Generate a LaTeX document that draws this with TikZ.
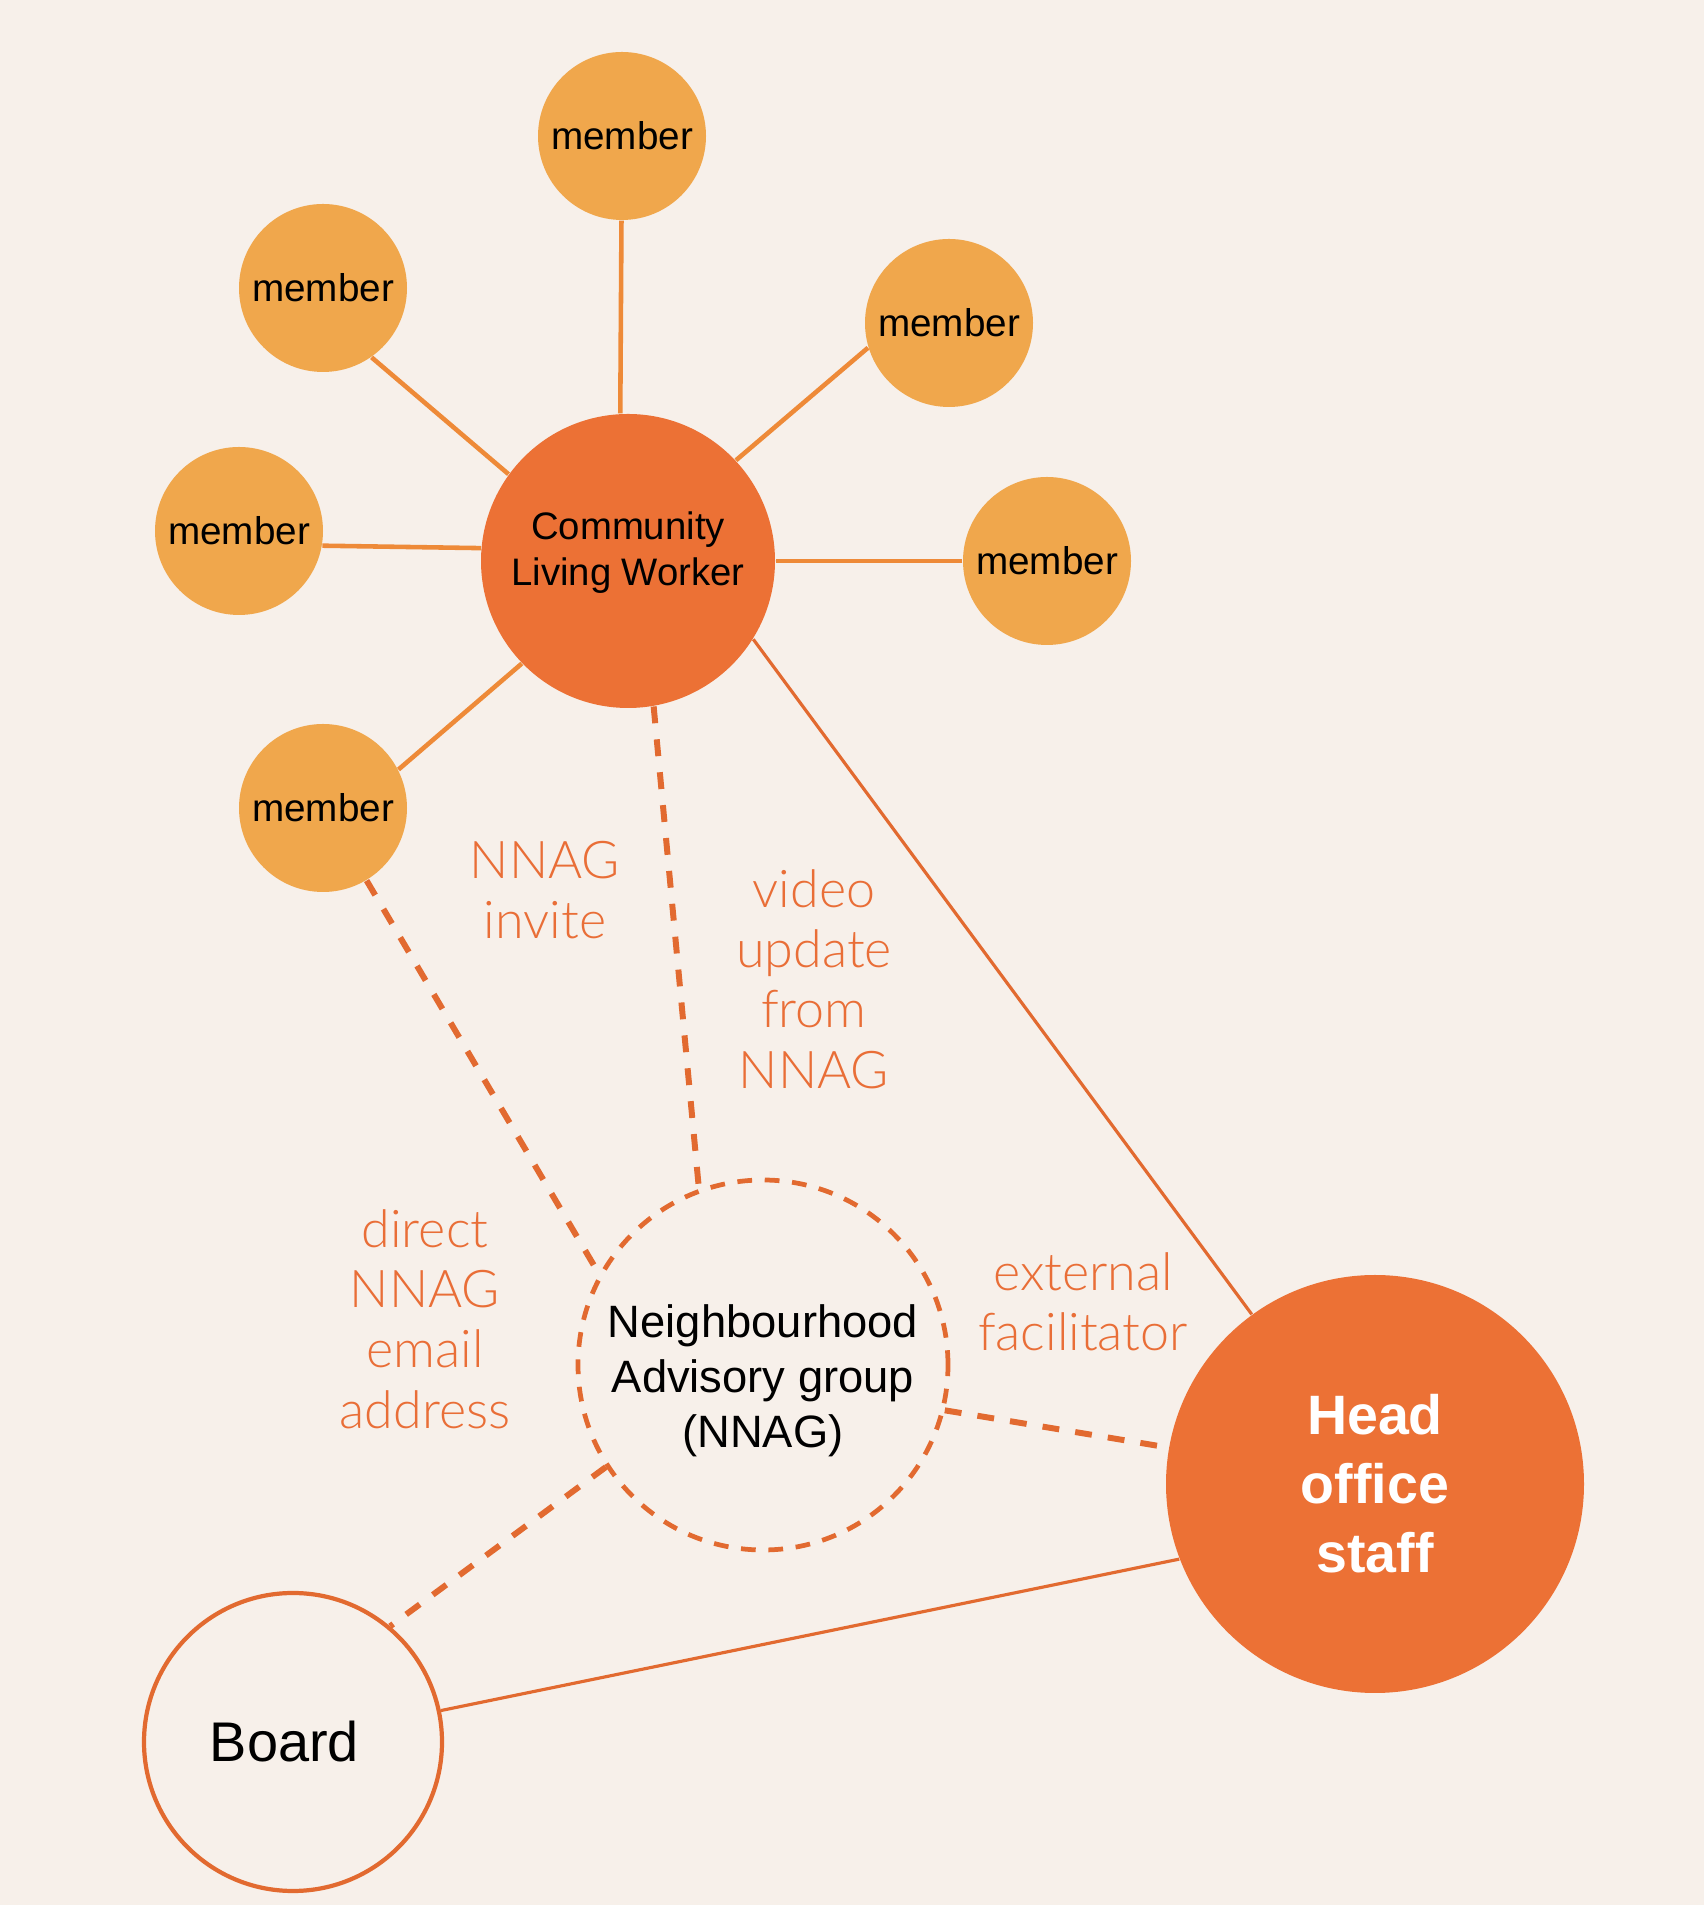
\documentclass[tikz,border=0pt]{standalone}
\usepackage{fontspec}
\setmainfont{Liberation Sans}
\newfontfamily\lblfont{Lato Light}
\definecolor{bgcream}{RGB}{247,240,234}
\definecolor{memfill}{RGB}{240,167,76}
\definecolor{hubfill}{RGB}{236,113,53}
\definecolor{spokecol}{RGB}{238,138,56}
\definecolor{linkcol}{RGB}{226,106,48}
\definecolor{lblcol}{RGB}{233,110,55}
\tikzset{
  member/.style={circle,fill=memfill,minimum size=1.68cm,inner sep=0pt,font=\fontsize{11}{13}\selectfont},
  hub/.style={circle,fill=hubfill,minimum size=2.94cm,inner sep=0pt},
  hubtext/.style={align=center,inner sep=0pt,font=\fontsize{10.9}{13}\selectfont},
  nnagring/.style={circle,draw=linkcol,line width=1.35pt,dash pattern=on 4.2pt off 3.6pt,minimum size=3.7cm,inner sep=0pt},
  nnagtext/.style={align=center,inner sep=0pt,font=\fontsize{12.9}{15.6}\selectfont},
  headhub/.style={circle,fill=hubfill,minimum size=4.18cm,inner sep=0pt,align=center,text=white,font=\bfseries\fontsize{15.8}{19.6}\selectfont},
  boardring/.style={circle,draw=linkcol,line width=1.2pt,minimum size=2.98cm,inner sep=0pt,font=\fontsize{15.9}{19}\selectfont},
  spoke/.style={draw=spokecol,line width=1.3pt},
  link/.style={draw=linkcol,line width=0.9pt},
  dashlink/.style={draw=linkcol,line width=1.7pt,dash pattern=on 4.8pt off 4.6pt},
  lbl/.style={align=center,text=lblcol,font=\lblfont\fontsize{14.8}{17.2}\selectfont}
}

\begin{document}
\begin{tikzpicture}[x=1cm,y=1cm]
  \fill[bgcream] (0,0) rectangle (17.04,19.05);
  \useasboundingbox (0,0) rectangle (17.04,19.05);

  \node[hub,label={[hubtext,yshift=0.85mm]center:{Community\\Living Worker}}] (clw) at (6.28,13.44) {};
  \node[member] (mt) at (6.22,17.69) {member};
  \node[member] (mul) at (3.23,16.17) {member};
  \node[member] (mur) at (9.49,15.82) {member};
  \node[member] (ml) at (2.39,13.74) {member};
  \node[member] (mr) at (10.47,13.44) {member};
  \node[member] (mll) at (3.23,10.97) {member};

  \node[nnagring,label={[nnagtext,yshift=-1.6mm]center:{Neighbourhood\\Advisory group\\(NNAG)}}] (nnag) at (7.63,5.40) {};
  \node[headhub] (head) at (13.75,4.21) {Head\\office\\staff};
  \node[boardring] (board) at (2.93,1.63) {\hspace{-1.7mm}Board};

  \draw[spoke] (mt) -- (clw.93);
  \draw[spoke] (mul.-55) -- (clw.144);
  \draw[spoke] (mur.197) -- (clw.43);
  \draw[spoke] (ml.-10) -- (clw.175);
  \draw[spoke] (mr) -- (clw);
  \draw[spoke] (mll.27) -- (clw.224);

  \draw[link] (clw.-32) -- (head.126);
  \draw[link] (board.12) -- (head.201);
  \draw[dashlink] (mll.-59) -- (nnag.151);
  \draw[dashlink] (clw.-80) -- (nnag.110);
  \draw[dashlink] (nnag.-14) -- (head.170);
  \draw[dashlink] (nnag.213) -- (board.50);

  \node[lbl] (linvite) at (5.45,10.15) {NNAG\\invite};
  \node[lbl] (lvideo) at (8.14,9.26) {video\\update\\from\\NNAG};
  \node[lbl] (ldirect) at (4.25,5.86) {direct\\NNAG\\email\\address};
  \node[lbl] (lext) at (10.83,6.03) {external\\facilitator};
\end{tikzpicture}
\end{document}
